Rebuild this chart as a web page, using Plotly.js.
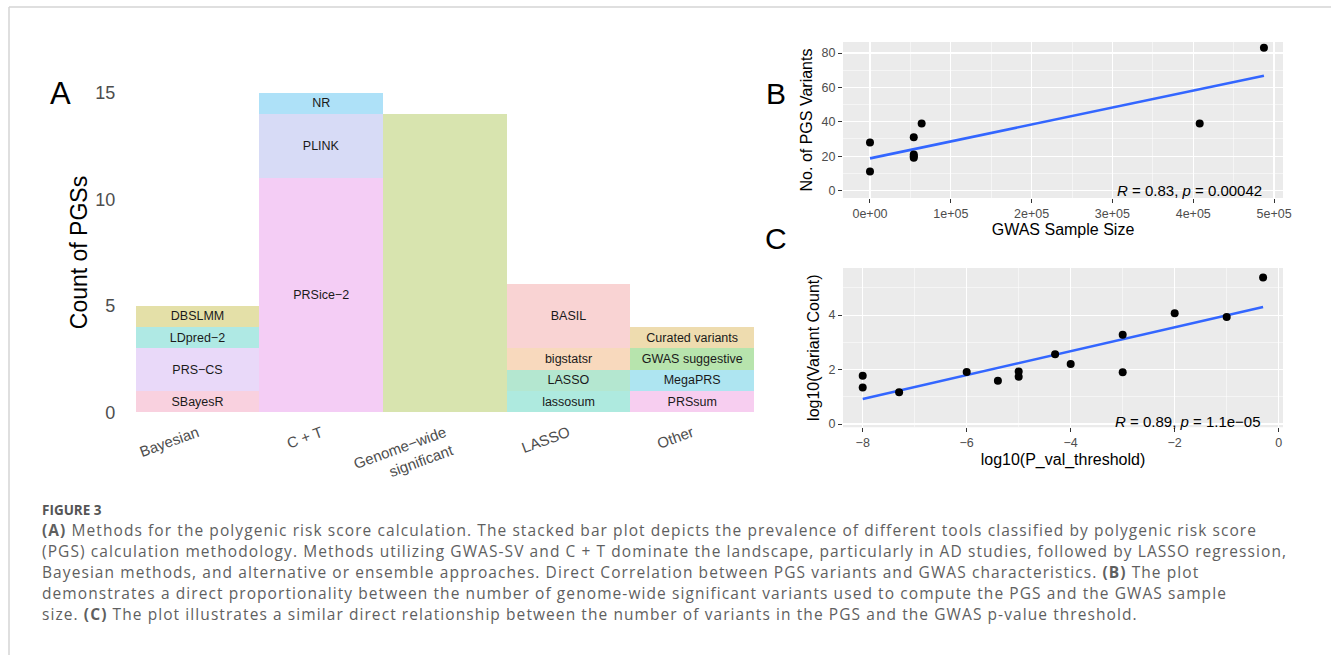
<!DOCTYPE html>
<html><head><meta charset="utf-8">
<script src="https://cdn.plot.ly/plotly-3.0.1.min.js"></script>
<style>html,body{margin:0;padding:0;background:#fff;} #chart{width:1331px;height:655px;}</style>
</head><body><div id="chart"></div>
<script>
// ---------- Panel A data ----------
const categories = ['Bayesian', 'C + T', 'Genome−wide significant', 'LASSO', 'Other'];
const categoryTickText = ['Bayesian', 'C + T', 'Genome−wide<br>significant', 'LASSO', 'Other'];
const methodNames = ['SBayesR', 'PRS−CS', 'LDpred−2', 'DBSLMM',
  'PRSice−2', 'PLINK', 'NR',
  'Genome−wide significant',
  'lassosum', 'LASSO', 'bigstatsr', 'BASIL',
  'PRSsum', 'MegaPRS', 'GWAS suggestive', 'Curated variants'];
const methodCategory = ['Bayesian', 'Bayesian', 'Bayesian', 'Bayesian',
  'C + T', 'C + T', 'C + T',
  'Genome−wide significant',
  'LASSO', 'LASSO', 'LASSO', 'LASSO',
  'Other', 'Other', 'Other', 'Other'];
const methodCounts = [1, 2, 1, 1, 11, 3, 1, 14, 1, 1, 1, 3, 1, 1, 1, 1];
const methodLabelShown = [true, true, true, true, true, true, true, false, true, true, true, true, true, true, true, true];
const yTicksA = [0, 5, 10, 15];

// ---------- Panel B data ----------
const gwasSampleSize = [0, 0, 54162, 54162, 54162, 54162, 63926, 408000, 487511];
const pgsVariants = [28, 11, 31, 21, 20, 19, 39, 39, 83];
const fitBx = [0, 487511];
const fitBy = [18.7, 66.8];
const corLabelB = '<i>R</i> = 0.83, <i>p</i> = 0.00042';
const xTicksB = [0, 100000, 200000, 300000, 400000, 500000];
const xTickTextB = ['0e+00', '1e+05', '2e+05', '3e+05', '4e+05', '5e+05'];
const xMinorB = [50000, 150000, 250000, 350000, 450000];
const yTicksB = [0, 20, 40, 60, 80];
const yMinorB = [10, 30, 50, 70];

// ---------- Panel C data ----------
const log10Pthreshold = [-8, -8, -7.3, -6, -5.4, -5, -5, -4.3, -4, -3, -3, -2, -1, -0.3];
const log10VariantCount = [1.77, 1.34, 1.17, 1.91, 1.59, 1.93, 1.74, 2.56, 2.20, 3.28, 1.90, 4.07, 3.93, 5.38];
const fitCx = [-8, -0.3];
const fitCy = [0.92, 4.30];
const corLabelC = '<i>R</i> = 0.89, <i>p</i> = 1.1e−05';
const xTicksC = [-8, -6, -4, -2, 0];
const xMinorC = [-7, -5, -3, -1];
const yTicksC = [0, 2, 4];
const yMinorC = [1, 3, 5];

// ---------- Caption ----------
const captionHead = 'FIGURE 3';
const captionLines = [
  '<b>(A)</b> Methods for the polygenic risk score calculation. The stacked bar plot depicts the prevalence of different tools classified by polygenic risk score',
  '(PGS) calculation methodology. Methods utilizing GWAS-SV and C + T dominate the landscape, particularly in AD studies, followed by LASSO regression,',
  'Bayesian methods, and alternative or ensemble approaches. Direct Correlation between PGS variants and GWAS characteristics. <b>(B)</b> The plot',
  'demonstrates a direct proportionality between the number of genome-wide significant variants used to compute the PGS and the GWAS sample',
  'size. <b>(C)</b> The plot illustrates a similar direct relationship between the number of variants in the PGS and the GWAS p-value threshold.'
];

// ---------- Styles ----------
const methodColors = ['#f9d1df', '#e9d9f9', '#afe9e4', '#e4e0a8',
  '#f4cdf5', '#d7dbf6', '#aee1f8',
  '#d8e4af',
  '#aeeadf', '#b4e7d0', '#f8d9bd', '#f9d3d3',
  '#f7cef0', '#aee5f1', '#b7e4ad', '#eedcaf'];
const W = 1331, H = 655;
const FONT = 'Liberation Sans, Arial, Helvetica, sans-serif';
const CAPFONT = 'Open Sans, Lato, sans-serif';
const px = v => v / W;
const py = v => (H - v) / H;

// ---------- Traces ----------
const traces = [];
methodNames.forEach((m, i) => {
  traces.push({
    type: 'bar', name: m,
    x: [methodCategory[i]], y: [methodCounts[i]],
    xaxis: 'x', yaxis: 'y',
    width: 1,
    marker: {color: methodColors[i], line: {width: 0}},
    text: [methodLabelShown[i] ? m : ''],
    textposition: 'inside', insidetextanchor: 'middle', textangle: 0,
    constraintext: 'none',
    textfont: {family: FONT, size: 12.5, color: '#1a1a1a'},
    hoverinfo: 'name+y', showlegend: false
  });
});

traces.push({
  type: 'scatter', mode: 'lines', x: fitBx, y: fitBy, xaxis: 'x2', yaxis: 'y2',
  line: {color: '#3366FF', width: 2.6}, showlegend: false, hoverinfo: 'skip'
});
traces.push({
  type: 'scatter', mode: 'markers', x: gwasSampleSize, y: pgsVariants, xaxis: 'x2', yaxis: 'y2',
  marker: {color: '#000', size: 8}, showlegend: false
});
traces.push({
  type: 'scatter', mode: 'lines', x: fitCx, y: fitCy, xaxis: 'x3', yaxis: 'y3',
  line: {color: '#3366FF', width: 2.6}, showlegend: false, hoverinfo: 'skip'
});
traces.push({
  type: 'scatter', mode: 'markers', x: log10Pthreshold, y: log10VariantCount, xaxis: 'x3', yaxis: 'y3',
  marker: {color: '#000', size: 8}, showlegend: false
});

// ---------- Layout ----------
const ggTickFont = {family: FONT, size: 12.5, color: '#4d4d4d'};
const ggTitleFont = {family: FONT, size: 16, color: '#000'};
function ggAxis(extra) {
  return Object.assign({
    showline: false, zeroline: false,
    showgrid: true, gridcolor: '#ffffff', gridwidth: 1.1,
    ticks: 'outside', ticklen: 4, tickcolor: '#333333', tickwidth: 1,
    tickfont: ggTickFont, tickmode: 'array', fixedrange: true
  }, extra);
}

const capSize = 15.5;
const capLeft = 42, capLine1Right = 1257;

const annotations = [
  {text: 'A', x: px(60), y: py(93), xref: 'paper', yref: 'paper', showarrow: false,
   font: {family: FONT, size: 31, color: '#000'}, xanchor: 'center', yanchor: 'middle'},
  {text: 'B', x: px(776), y: py(93), xref: 'paper', yref: 'paper', showarrow: false,
   font: {family: FONT, size: 30, color: '#000'}, xanchor: 'center', yanchor: 'middle'},
  {text: 'C', x: px(776), y: py(238), xref: 'paper', yref: 'paper', showarrow: false,
   font: {family: FONT, size: 30, color: '#000'}, xanchor: 'center', yanchor: 'middle'},
  {text: corLabelB, x: Math.max(...gwasSampleSize), y: 0, xref: 'x2', yref: 'y2', showarrow: false,
   xanchor: 'right', yanchor: 'middle', font: {family: FONT, size: 15, color: '#000'}},
  {text: corLabelC, x: Math.max(...log10Pthreshold), y: 0, xref: 'x3', yref: 'y3', showarrow: false,
   xanchor: 'right', yanchor: 'middle', yshift: 3, font: {family: FONT, size: 15, color: '#000'}},
  {text: '<b>' + captionHead + '</b>', x: px(capLeft - 2), y: py(510), xref: 'paper', yref: 'paper', showarrow: false,
   xanchor: 'left', yanchor: 'middle', font: {family: CAPFONT, size: 13.5, color: '#555'}}
];
const firstCaptionIndex = annotations.length;
const capY = [530, 551, 572, 593, 614];
captionLines.forEach((t, i) => {
  annotations.push({text: t, x: px(capLeft), y: py(capY[i]), xref: 'paper', yref: 'paper', showarrow: false,
    xanchor: 'left', yanchor: 'middle', font: {family: CAPFONT, size: capSize, color: '#5f5f5f'}});
});

const layout = {
  width: W, height: H,
  margin: {l: 0, r: 0, t: 0, b: 0},
  paper_bgcolor: '#fff',
  barmode: 'stack', bargap: 0,
  showlegend: false,
  font: {family: FONT},
  xaxis: {
    domain: [px(123.3), px(766.4)], anchor: 'free', position: py(420.5),
    type: 'category', categoryorder: 'array', categoryarray: categories,
    range: [-0.6, 4.6], tickmode: 'array', tickvals: categories, ticktext: categoryTickText,
    tickangle: -20, tickfont: {family: FONT, size: 15, color: '#4d4d4d'},
    showgrid: false, showline: false, zeroline: false, ticks: '', fixedrange: true
  },
  yaxis: {
    domain: [py(428.3), py(76.7)], anchor: 'x',
    range: [-0.75, 15.75], tickmode: 'array', tickvals: yTicksA,
    tickfont: {family: FONT, size: 18, color: '#4d4d4d'},
    showgrid: false, showline: false, zeroline: false, ticks: '', ticklabelstandoff: 7,
    title: {text: 'Count of PGSs', font: {family: FONT, size: 23, color: '#000'}, standoff: 1},
    fixedrange: true
  },
  xaxis2: ggAxis({
    domain: [px(843), px(1283)], anchor: 'y2',
    range: [-33400, 511100], tickvals: xTicksB, ticktext: xTickTextB,
    minor: {tickmode: 'array', tickvals: xMinorB, showgrid: true, gridcolor: '#ffffff', gridwidth: 0.5, ticks: ''},
    title: {text: 'GWAS Sample Size', font: ggTitleFont, standoff: 3}
  }),
  yaxis2: ggAxis({
    domain: [py(198), py(42)], anchor: 'x2',
    range: [-4.36, 86.4], tickvals: yTicksB,
    minor: {tickmode: 'array', tickvals: yMinorB, showgrid: true, gridcolor: '#ffffff', gridwidth: 0.5, ticks: ''},
    title: {text: 'No. of PGS Variants', font: ggTitleFont, standoff: 4}
  }),
  xaxis3: ggAxis({
    domain: [px(843), px(1283)], anchor: 'y3',
    range: [-8.379, 0.083], tickvals: xTicksC,
    minor: {tickmode: 'array', tickvals: xMinorC, showgrid: true, gridcolor: '#ffffff', gridwidth: 0.5, ticks: ''},
    title: {text: 'log10(P_val_threshold)', font: ggTitleFont, standoff: 4}
  }),
  yaxis3: ggAxis({
    domain: [py(427.3), py(268)], anchor: 'x3',
    range: [-0.12, 5.73], tickvals: yTicksC,
    minor: {tickmode: 'array', tickvals: yMinorC, showgrid: true, gridcolor: '#ffffff', gridwidth: 0.5, ticks: ''},
    title: {text: 'log10(Variant Count)', font: ggTitleFont, standoff: 4}
  }),
  shapes: [
    {type: 'rect', xref: 'x2 domain', yref: 'y2 domain', x0: 0, x1: 1, y0: 0, y1: 1,
     fillcolor: '#ebebeb', line: {width: 0}, layer: 'below'},
    {type: 'rect', xref: 'x3 domain', yref: 'y3 domain', x0: 0, x1: 1, y0: 0, y1: 1,
     fillcolor: '#ebebeb', line: {width: 0}, layer: 'below'},
    {type: 'line', xref: 'paper', yref: 'paper', x0: px(9), x1: 1, y0: py(7), y1: py(7),
     line: {color: '#d4d4d4', width: 1.5}},
    {type: 'line', xref: 'paper', yref: 'paper', x0: px(9), x1: px(9), y0: py(7), y1: 0,
     line: {color: '#d4d4d4', width: 1.5}}
  ],
  annotations: annotations
};

Plotly.newPlot('chart', traces, layout, {displayModeBar: false, staticPlot: true}).then(gd => {
  // widen caption tracking so the first line spans the same width as in the reference,
  // then keep every caption line left-aligned at the caption margin
  const capTexts = [];
  gd.querySelectorAll('g.annotation').forEach(g => {
    const idx = +g.getAttribute('data-index');
    if (idx >= firstCaptionIndex) {
      const t = g.querySelector('text.annotation-text');
      if (t) capTexts.push({idx, t});
    }
  });
  const first = capTexts.find(c => c.idx === firstCaptionIndex);
  if (!first) return;
  const w = first.t.getComputedTextLength();
  const n = first.t.textContent.length;
  const ls = Math.max(0, (capLine1Right - capLeft - w) / n);
  const chartLeft = gd.getBoundingClientRect().left;
  capTexts.forEach(c => {
    c.t.style.letterSpacing = ls.toFixed(3) + 'px';
    c.t.setAttribute('text-anchor', 'start');
    const left = c.t.getBoundingClientRect().left - chartLeft;
    const dx = capLeft - left;
    const x0 = parseFloat(c.t.getAttribute('x')) || 0;
    c.t.setAttribute('x', x0 + dx);
  });
});
</script>
</body></html>
